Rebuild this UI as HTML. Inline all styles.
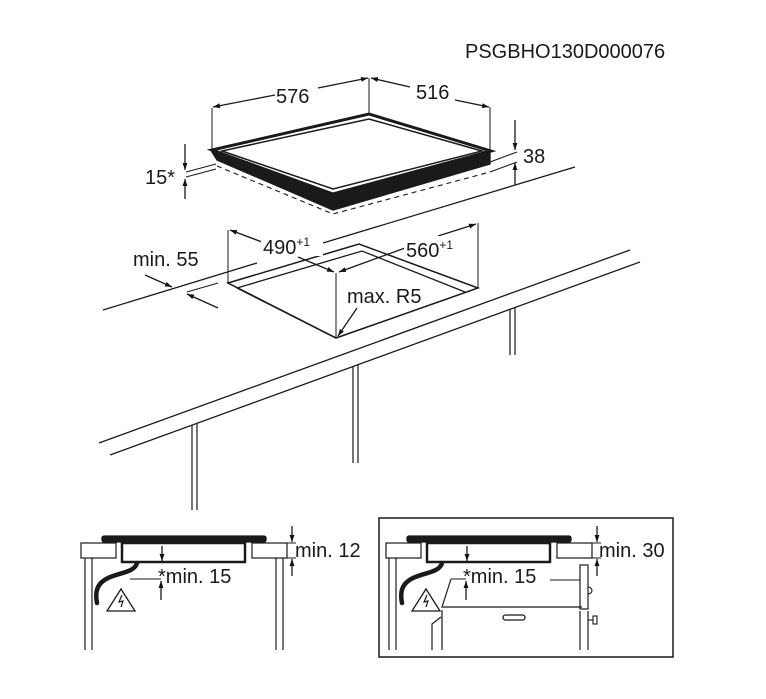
<!DOCTYPE html>
<html><head><meta charset="utf-8"><style>
html,body{margin:0;padding:0;background:#fff;}
svg{display:block;}
text{font-family:"Liberation Sans",Arial,sans-serif;fill:#1a1a1a;}
</style></head><body>
<svg width="766" height="699" viewBox="0 0 766 699" xmlns="http://www.w3.org/2000/svg">
<defs>
<marker id="a" viewBox="0 0 10 10" refX="10" refY="5" markerWidth="7" markerHeight="7" orient="auto-start-reverse" markerUnits="userSpaceOnUse"><path d="M0,1.5 L10,5 L0,8.5 z" fill="#111"/></marker>
</defs>
<g stroke="#1a1a1a" fill="none" stroke-width="1.3">
<text x="465" y="58" font-size="20" stroke="none">PSGBHO130D000076</text>

<!-- hob -->
<path d="M217,160 L333,210 L490,164 L490,152 L333,196 L212,152 Z" fill="#1a1a1a"/>
<path d="M212,150 L369,114 L491,151 L333,194 Z" fill="#fff" stroke-width="3"/>
<path d="M222,151 L369,119 L482,151 L333,189 Z" stroke-width="1.5"/>
<path d="M217,166 L333,214 L490,172" stroke-dasharray="5,4" stroke-width="1.1"/>
<!-- 576 / 516 dims -->
<line x1="212" y1="108" x2="212" y2="150" stroke-width="1"/>
<line x1="369" y1="78" x2="369" y2="115" stroke-width="1"/>
<line x1="490" y1="107" x2="490" y2="150" stroke-width="1"/>
<line x1="275" y1="95" x2="213" y2="107" marker-end="url(#a)"/>
<line x1="318" y1="88" x2="368" y2="78" marker-end="url(#a)"/>
<line x1="410" y1="87" x2="371" y2="78" marker-end="url(#a)"/>
<line x1="455" y1="100" x2="489" y2="107" marker-end="url(#a)"/>
<text x="276" y="103" font-size="20" stroke="none">576</text>
<text x="416" y="99" font-size="20" stroke="none">516</text>
<!-- 38 -->
<line x1="490" y1="162" x2="517" y2="152" stroke-width="1"/>
<line x1="490" y1="172" x2="517" y2="162" stroke-width="1"/>
<line x1="515" y1="120" x2="515" y2="150" marker-end="url(#a)"/>
<line x1="515" y1="185" x2="515" y2="163" marker-end="url(#a)"/>
<text x="523" y="163" font-size="20" stroke="none">38</text>
<!-- 15* -->
<line x1="186" y1="172" x2="216" y2="164" stroke-width="1"/>
<line x1="186" y1="177" x2="216" y2="169" stroke-width="1"/>
<line x1="185" y1="144" x2="185" y2="170" marker-end="url(#a)"/>
<line x1="185" y1="199" x2="185" y2="179" marker-end="url(#a)"/>
<text x="145" y="184" font-size="20" stroke="none">15*</text>

<!-- counter back line -->
<line x1="103" y1="310" x2="257" y2="263"/>
<line x1="323" y1="243" x2="575" y2="167"/>
<line x1="187" y1="292" x2="218" y2="283" stroke-width="1"/>
<!-- cutout -->
<path d="M228,283 L359,244 L478,288 L336,338 Z" stroke-width="1.5"/>
<path d="M237,288 L362,251 L465,292" stroke-width="1.3"/>
<line x1="237" y1="288" x2="336" y2="338"/>
<line x1="228" y1="230" x2="228" y2="283" stroke-width="1"/>
<line x1="478" y1="223" x2="478" y2="288" stroke-width="1"/>
<line x1="336" y1="273" x2="336" y2="338" stroke-width="1"/>
<line x1="262" y1="242" x2="230" y2="230" marker-end="url(#a)"/>
<line x1="438" y1="236" x2="476" y2="224" marker-end="url(#a)"/>
<line x1="298" y1="257" x2="334" y2="272" marker-end="url(#a)"/>
<line x1="405" y1="248" x2="339" y2="272" marker-end="url(#a)"/>
<line x1="357" y1="308" x2="338" y2="336" marker-end="url(#a)"/>
<line x1="145" y1="275" x2="172" y2="287" marker-end="url(#a)"/>
<line x1="218" y1="308" x2="187" y2="294" marker-end="url(#a)"/>
<rect x="261" y="232" width="62" height="24" fill="#fff" stroke="none"/>
<text x="263" y="254" font-size="20" stroke="none">490<tspan font-size="12" dy="-8">+1</tspan></text>
<rect x="404" y="236" width="64" height="22" fill="#fff" stroke="none"/>
<text x="406" y="257" font-size="20" stroke="none">560<tspan font-size="12" dy="-8">+1</tspan></text>
<text x="133" y="266" font-size="20" stroke="none">min. 55</text>
<text x="347" y="303" font-size="20" stroke="none">max. R5</text>
<!-- front edge -->
<line x1="99" y1="443" x2="630" y2="250"/>
<line x1="110" y1="455" x2="640" y2="262"/>
<!-- legs -->
<path d="M192,425 V510 M197,423 V510 M353,367 V463 M358,365 V463 M510,310 V355 M515,308 V355" stroke-width="1.2"/>

<!-- section 1 -->
<rect x="102" y="536" width="164" height="6" rx="2" fill="#1a1a1a"/>
<rect x="81" y="543" width="35" height="15" stroke-width="1.2"/>
<rect x="252" y="543" width="35" height="15" stroke-width="1.2"/>
<rect x="122" y="543" width="123" height="19" stroke-width="2.5"/>
<line x1="162" y1="546" x2="162" y2="561" marker-end="url(#a)"/>
<path d="M85,558 V650 M92,558 V650 M276,558 V650 M283,558 V650" stroke-width="1.2"/>
<path d="M137,563 C134,575 110,572 100,584 C95,590 96,598 97,603" stroke-width="4.5" stroke-linecap="round"/>
<path d="M121,589 L107,611 L135,611 Z" stroke-width="1.3"/>
<path d="M122,595 L119,602 L123,601 L121,607" stroke-width="1.2"/>
<line x1="130" y1="579" x2="161" y2="579" stroke-width="1"/>
<line x1="161" y1="600" x2="161" y2="581" marker-end="url(#a)"/>
<text x="158" y="583" font-size="20" stroke="none">*min. 15</text>
<line x1="292" y1="526" x2="292" y2="542" marker-end="url(#a)"/>
<line x1="292" y1="576" x2="292" y2="559" marker-end="url(#a)"/>
<line x1="287" y1="543" x2="296" y2="543" stroke-width="1"/>
<line x1="287" y1="558" x2="296" y2="558" stroke-width="1"/>
<text x="295" y="557" font-size="20" stroke="none">min. 12</text>

<!-- section 2 -->
<rect x="379" y="518" width="294" height="139" stroke-width="1.5"/>
<rect x="407" y="536" width="164" height="6" rx="2" fill="#1a1a1a"/>
<rect x="386" y="543" width="35" height="15" stroke-width="1.2"/>
<rect x="557" y="543" width="35" height="15" stroke-width="1.2"/>
<rect x="427" y="543" width="123" height="19" stroke-width="2.5"/>
<line x1="467" y1="546" x2="467" y2="561" marker-end="url(#a)"/>
<path d="M389,558 V650 M396,558 V650" stroke-width="1.2"/>
<path d="M442,563 C439,575 415,572 405,584 C400,590 401,598 402,603" stroke-width="4.5" stroke-linecap="round"/>
<path d="M426,589 L412,611 L440,611 Z" stroke-width="1.3"/>
<path d="M427,595 L424,602 L428,601 L426,607" stroke-width="1.2"/>
<line x1="451" y1="579" x2="466" y2="579" stroke-width="1"/>
<line x1="466" y1="600" x2="466" y2="581" marker-end="url(#a)"/>
<text x="463" y="583" font-size="20" stroke="none">*min. 15</text>
<path d="M451,579 L442,607 L582,607" stroke-width="1.2"/>
<path d="M441,617 L432,624 V650 M442,610 V650" stroke-width="1.2"/>
<rect x="503" y="615" width="22" height="5" rx="2.5" stroke-width="1.3"/>
<line x1="550" y1="580" x2="580" y2="580" stroke-width="1"/>
<rect x="580" y="565" width="8" height="44" stroke-width="1.2"/>
<path d="M580,611 V650 M588,611 V650" stroke-width="1.2"/>
<path d="M588,587 A4,3.5 0 0 1 588,594" stroke-width="1.1"/>
<path d="M588,620 H593" stroke-width="1.1"/>
<rect x="593" y="616" width="4" height="8" stroke-width="1.1"/>
<line x1="597" y1="526" x2="597" y2="542" marker-end="url(#a)"/>
<line x1="597" y1="576" x2="597" y2="559" marker-end="url(#a)"/>
<line x1="592" y1="543" x2="601" y2="543" stroke-width="1"/>
<line x1="592" y1="558" x2="601" y2="558" stroke-width="1"/>
<text x="599" y="557" font-size="20" stroke="none">min. 30</text>
</g>
</svg>
</body></html>
